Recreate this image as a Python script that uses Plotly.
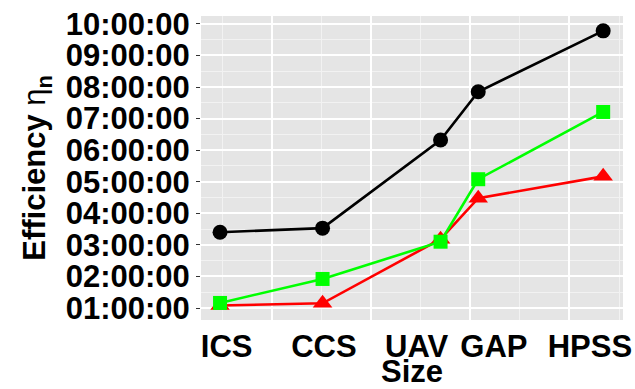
import plotly.graph_objects as go

# ---- data ----
systems = ["ICS", "CCS", "UAV", "GAP", "HPSS"]
size_pos = [0.476, 1.51, 2.70, 3.08, 4.34]          # position of each system along the Size axis
label_pos = [0.543, 1.524, 2.459, 3.238, 4.206]      # where the axis labels sit along the Size axis
eff_black = [3.40, 3.53, 6.32, 7.85, 9.78]            # hours
eff_green = [1.16, 1.92, 3.10, 5.08, 7.21]
eff_red = [1.08, 1.15, 3.18, 4.48, 5.17]
y_tick_vals = [1, 2, 3, 4, 5, 6, 7, 8, 9, 10]
y_tick_text = ["01:00:00", "02:00:00", "03:00:00", "04:00:00", "05:00:00",
               "06:00:00", "07:00:00", "08:00:00", "09:00:00", "10:00:00"]
x_grid_major = [1, 2, 3, 4]

FONT = "Liberation Sans, Arial, sans-serif"
FS = 31

fig = go.Figure()
fig.add_trace(go.Scatter(x=size_pos, y=eff_black, mode="lines+markers",
                         line=dict(color="#000000", width=2.6),
                         marker=dict(symbol="circle", size=15, color="#000000"),
                         showlegend=False))
fig.add_trace(go.Scatter(x=size_pos, y=eff_red, mode="lines+markers",
                         line=dict(color="#FF0000", width=2.6),
                         marker=dict(symbol="triangle-up", size=17, color="#FF0000"),
                         showlegend=False))
fig.add_trace(go.Scatter(x=size_pos, y=eff_green, mode="lines+markers",
                         line=dict(color="#00FF00", width=2.6),
                         marker=dict(symbol="square", size=14, color="#00FF00"),
                         showlegend=False))
# invisible carrier for the label axis
fig.add_trace(go.Scatter(x=label_pos, y=eff_black, xaxis="x2", mode="markers",
                         marker=dict(opacity=0), hoverinfo="skip", showlegend=False))

bold = dict(family=FONT, size=FS, color="black", weight="bold")
x_range = [0.284, 4.54]
fig.update_layout(
    width=635, height=389,
    margin=dict(l=201, r=12, t=16, b=69, autoexpand=False),
    paper_bgcolor="white",
    plot_bgcolor="#E5E5E5",
    font=dict(family=FONT, size=FS, color="black"),
    xaxis=dict(range=x_range, tickvals=x_grid_major, showticklabels=False,
               showgrid=True, gridcolor="white", gridwidth=1.6,
               minor=dict(tickvals=[v + 0.5 for v in [0] + x_grid_major], showgrid=True,
                          gridcolor="#F2F2F2", gridwidth=0.6),
               zeroline=False, showline=False, ticks="", automargin=False),
    xaxis2=dict(range=x_range, overlaying="x", side="bottom", tickvals=label_pos,
                ticktext=systems, showgrid=False, zeroline=False, showline=False,
                ticks="", tickangle=0, tickfont=bold, automargin=False,
                ticklabelstandoff=5,
                title=dict(text="Size", font=bold, standoff=6)),
    yaxis=dict(range=[0.62, 10.25], tickvals=y_tick_vals, ticktext=y_tick_text,
               tickfont=bold, automargin=False,
               showgrid=True, gridcolor="white", gridwidth=1.6,
               minor=dict(tickvals=[v + 0.5 for v in y_tick_vals[:-1]], showgrid=True,
                          gridcolor="#F2F2F2", gridwidth=0.6),
               ticks="outside", ticklen=4, tickcolor="#333333", tickwidth=1,
               zeroline=False, showline=False,
               title=dict(text="Efficiency <span style='font-weight:normal'>η</span><sub>n</sub>",
                          font=bold, standoff=10)),
)
fig.write_html("out.html", config={"displayModeBar": False},
               post_script="document.body.style.margin='0';document.body.style.overflow='hidden';")
